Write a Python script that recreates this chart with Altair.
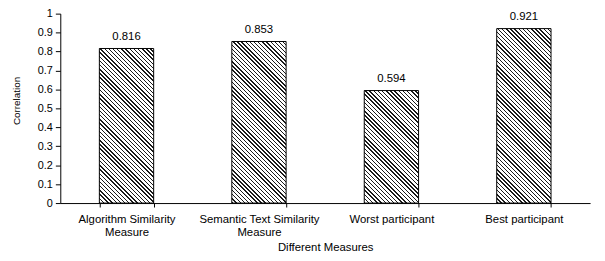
import altair as alt
import pandas as pd

categories = ["Algorithm Similarity Measure", "Semantic Text Similarity Measure",
              "Worst participant", "Best participant"]
values = [0.816, 0.853, 0.594, 0.921]
y_ticks = [0, 0.1, 0.2, 0.3, 0.4, 0.5, 0.6, 0.7, 0.8, 0.9, 1]

df = pd.DataFrame({"measure": categories, "corr": values})

W, H = 537, 192
PAD_INNER = 0.59
FONT = "Liberation Sans"

# hatch fill (style): diagonal stripes drawn as a linear gradient per bar
bar_w = W / len(categories) * (1 - PAD_INNER)
PERIOD = 4.2
DARK = 0.34


def hatch(v):
    h = v * H
    w = bar_w
    k = (w + h) / (w * w + h * h)
    n = max(1, int(round((w + h) / PERIOD)))
    stops = []
    for i in range(n):
        a = i / n
        b = (i + DARK) / n
        c = (i + 1) / n
        stops += [alt.GradientStop(offset=a, color="#1a1a1a"),
                  alt.GradientStop(offset=b, color="#1a1a1a"),
                  alt.GradientStop(offset=b, color="#ffffff"),
                  alt.GradientStop(offset=c, color="#ffffff")]
    return alt.LinearGradient(gradient="linear", stops=stops,
                              x1=0, y1=1, x2=w * k, y2=1 - h * k)


x_enc = alt.X("measure:N", sort=categories, title="Different Measures",
              scale=alt.Scale(paddingInner=PAD_INNER, paddingOuter=PAD_INNER / 2),
              axis=alt.Axis(labelAngle=0, tickBand="extent", tickSize=4,
                            labelFont=FONT, labelFontSize=11.5, labelColor="black",
                            labelPadding=7, labelLineHeight=13,
                            labelExpr="indexof(datum.label, ' Measure') > 0 ? [substring(datum.label, 0, indexof(datum.label, ' Measure')), 'Measure'] : datum.label",
                            titleFont=FONT, titleFontSize=11.5, titleFontWeight="normal",
                            titleColor="black", titleY=45, titleBaseline="middle",
                            domainColor="black", tickColor="black"))
y_enc = alt.Y("corr:Q", title="Correlation",
              scale=alt.Scale(domain=[0, 1], nice=False),
              axis=alt.Axis(values=y_ticks, format="~g", grid=False, tickSize=5,
                            labelOverlap=False,
                            labelFont=FONT, labelFontSize=11, labelColor="black",
                            labelPadding=3,
                            titleFont=FONT, titleFontSize=10, titleFontWeight="normal",
                            titleColor="black", titleX=-44, titleY=88,
                            titleAngle=270, titleAlign="center",
                            titleBaseline="middle",
                            domainColor="black", tickColor="black"))

layers = []
for cat, v in zip(categories, values):
    layers.append(
        alt.Chart(df).transform_filter(alt.datum.measure == cat)
        .mark_bar(fill=hatch(v), stroke="black", strokeWidth=1)
        .encode(x=x_enc, y=y_enc)
    )

text = alt.Chart(df).mark_text(dy=-12, font=FONT, fontSize=11.5, color="black").encode(
    x=x_enc,
    y=y_enc,
    text=alt.Text("corr:Q", format=".3f"),
)

chart = alt.layer(*layers, text).properties(
    width=W, height=H,
    autosize=alt.AutoSizeParams(type="none"),
    padding={"left": 53, "top": 4, "right": 7, "bottom": 57},
).configure_view(stroke=None)

chart.save("out.html", embed_options={"renderer": "svg", "actions": False})
